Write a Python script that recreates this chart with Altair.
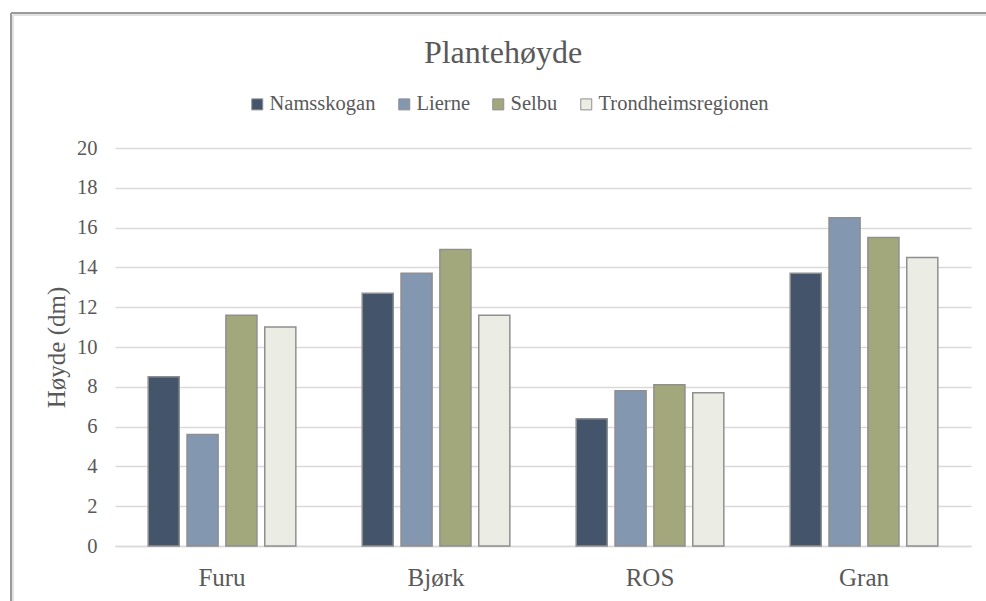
import altair as alt
import pandas as pd

# Plant height per species and region
species = ["Furu", "Bjørk", "ROS", "Gran"]
regions = ["Namsskogan", "Lierne", "Selbu", "Trondheimsregionen"]
namsskogan = [8.5, 12.7, 6.4, 13.7]
lierne = [5.6, 13.7, 7.8, 16.5]
selbu = [11.6, 14.9, 8.1, 15.5]
trondheimsregionen = [11.0, 11.6, 7.7, 14.5]
y_ticks = list(range(0, 21, 2))
chart_title = "Plantehøyde"

colors = ["#44546a", "#8497b0", "#a3a87c", "#ebece4"]
FONT = "Liberation Serif"
TEXT = "#595959"

series = [namsskogan, lierne, selbu, trondheimsregionen]
rows = []
for region, values in zip(regions, series):
    for sp, v in zip(species, values):
        rows.append({"Art": sp, "Region": region, "Høyde": v})
df = pd.DataFrame(rows)

bars = alt.Chart(df).mark_bar(stroke="#8f8f8f", strokeWidth=1.5).encode(
    x=alt.X("Art:N", sort=species,
            scale=alt.Scale(paddingInner=0.31, paddingOuter=0.155),
            axis=alt.Axis(title=None, labelAngle=0, labelFontSize=25,
                          labelFont=FONT, labelColor=TEXT, labelPadding=19,
                          ticks=False, domainColor="#d9d9d9", domainWidth=1.5,
                          grid=False)),
    xOffset=alt.XOffset("Region:N", sort=regions,
                        scale=alt.Scale(paddingInner=0.2, paddingOuter=0)),
    y=alt.Y("Høyde:Q", scale=alt.Scale(domain=[0, 20], nice=False),
            axis=alt.Axis(title="Høyde (dm)", values=y_ticks, titleFont=FONT,
                          titleFontSize=25, titleFontWeight="normal",
                          titleColor=TEXT, titlePadding=7, labelFont=FONT,
                          labelFontSize=20.5, labelColor=TEXT, labelPadding=18,
                          ticks=False, domain=False, gridColor="#d9d9d9",
                          gridWidth=1.5)),
    color=alt.Color("Region:N", sort=regions,
                    scale=alt.Scale(domain=regions, range=colors),
                    legend=alt.Legend(title=None, orient="none",
                                      direction="horizontal", columns=4,
                                      legendX=132, legendY=-54,
                                      symbolType="square", symbolSize=121,
                                      symbolStrokeColor="#8f8f8f",
                                      symbolStrokeWidth=1,
                                      labelFont=FONT, labelFontSize=20.5,
                                      labelColor=TEXT, labelOffset=2,
                                      labelLimit=400, columnPadding=18)),
)

# Chart heading
heading = alt.Chart(pd.DataFrame({"k": [0]})).mark_text(
    font=FONT, fontSize=32, color=TEXT, align="center", baseline="alphabetic"
).encode(x=alt.value(388), y=alt.value(-85), text=alt.value(chart_title))

# Outer chart frame (double grey line on the top and left)
frame_df = pd.DataFrame({"k": [0]})
frame_outer_left = alt.Chart(frame_df).mark_rule(color="#9a9a9a", strokeWidth=2).encode(
    x=alt.value(-104), y=alt.value(-135), y2=alt.value(460))
frame_outer_top = alt.Chart(frame_df).mark_rule(color="#9a9a9a", strokeWidth=2).encode(
    x=alt.value(-104), x2=alt.value(900), y=alt.value(-135))
frame_inner_left = alt.Chart(frame_df).mark_rule(color="#e2e2e2", strokeWidth=2).encode(
    x=alt.value(-102), y=alt.value(-133), y2=alt.value(460))
frame_inner_top = alt.Chart(frame_df).mark_rule(color="#e2e2e2", strokeWidth=2).encode(
    x=alt.value(-102), x2=alt.value(900), y=alt.value(-133))

chart = alt.layer(
    frame_outer_left, frame_outer_top, frame_inner_left, frame_inner_top,
    heading, bars
).properties(
    width=856,
    height=398,
    autosize=alt.AutoSizeParams(type="none"),
    padding={"left": 115, "top": 148, "right": 15, "bottom": 55},
    background="white",
).configure_view(stroke=None)

chart.save("out.html", embed_options={"renderer": "svg", "actions": False})
